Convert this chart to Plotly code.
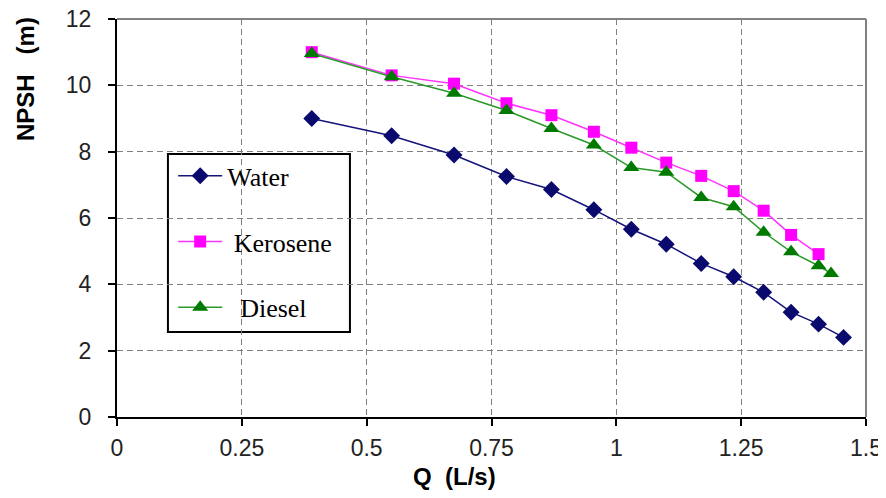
import plotly.graph_objects as go

q_common = [0.39, 0.55, 0.675, 0.78, 0.87, 0.955, 1.03, 1.10, 1.17, 1.235, 1.295, 1.35, 1.405]
q_water = q_common + [1.455]
npsh_water = [9.0, 8.48, 7.90, 7.25, 6.86, 6.25, 5.66, 5.21, 4.63, 4.23, 3.76, 3.16, 2.80, 2.40]
q_kerosene = q_common
npsh_kerosene = [11.0, 10.30, 10.05, 9.46, 9.10, 8.60, 8.12, 7.67, 7.27, 6.81, 6.22, 5.49, 4.91]
q_diesel = q_common + [1.43]
npsh_diesel = [10.96, 10.26, 9.76, 9.24, 8.70, 8.20, 7.52, 7.38, 6.62, 6.34, 5.57, 4.98, 4.56, 4.33]

x_ticks = [0, 0.25, 0.5, 0.75, 1, 1.25, 1.5]
x_ticklabels = ["0", "0.25", "0.5", "0.75", "1", "1.25", "1.5"]
y_ticks = [0, 2, 4, 6, 8, 10, 12]

fig = go.Figure()
fig.add_trace(go.Scatter(x=q_water, y=npsh_water, name="Water", mode="lines+markers",
                         line=dict(color="#14147a", width=1.5),
                         marker=dict(symbol="diamond", size=13, color="#0a0a6e"),
                         legendgroup="w"))
fig.add_trace(go.Scatter(x=q_kerosene, y=npsh_kerosene, name="\u00a0Kerosene", mode="lines+markers",
                         line=dict(color="#ff33ff", width=1.5),
                         marker=dict(symbol="square", size=12, color="#ff00ff"),
                         legendgroup="k"))
fig.add_trace(go.Scatter(x=q_diesel, y=npsh_diesel, name="\u00a0\u00a0Diesel", mode="lines+markers",
                         line=dict(color="#2a9a2a", width=1.5),
                         marker=dict(symbol="triangle-up", size=14, color="#007a00"),
                         legendgroup="d"))

grid = dict(showgrid=True, gridcolor="#7f7f7f", gridwidth=1, griddash="6px,4px")
common = dict(showline=True, linecolor="black", linewidth=2,
              ticks="outside", ticklen=7, tickcolor="black", tickwidth=2,
              tickfont=dict(family="Liberation Sans, Arial", size=23, color="#222"),
              ticklabeloverflow="allow", automargin=False, zeroline=False, **grid)
fig.update_xaxes(range=[0, 1.5], tickvals=x_ticks, ticktext=x_ticklabels,
                 ticklabelstandoff=2, **common)
fig.update_yaxes(range=[0, 12], tickvals=y_ticks, ticklabelstandoff=12, **common)

fig.add_shape(type="line", xref="paper", yref="paper", x0=0, x1=1, y0=1, y1=1,
              line=dict(color="#808080", width=2))
fig.add_shape(type="line", xref="paper", yref="paper", x0=1, x1=1, y0=0, y1=1,
              line=dict(color="#808080", width=2))
fig.add_shape(type="rect", xref="paper", yref="paper", x0=0.068, x1=0.311, y0=0.2136, y1=0.661,
              line=dict(color="black", width=2), fillcolor="white", layer="between")

fig.add_annotation(text="<b>NPSH   (m)</b>", xref="paper", yref="paper", x=-0.1228, y=0.849,
                   xanchor="center", yanchor="middle",
                   textangle=-90, showarrow=False,
                   font=dict(family="Liberation Sans, Arial", size=24, color="black"))
fig.add_annotation(text="<b>Q  (L/s)</b>", xref="paper", yref="paper", x=0.451, y=-0.150,
                   xanchor="center", yanchor="middle",
                   showarrow=False,
                   font=dict(family="Liberation Sans, Arial", size=24, color="black"))

fig.update_layout(
    width=878, height=482,
    margin=dict(l=109, r=20, t=11, b=73),
    paper_bgcolor="white", plot_bgcolor="white",
    showlegend=True,
    legend=dict(x=0.075, y=0.665, xanchor="left", yanchor="top",
                bgcolor="rgba(0,0,0,0)", borderwidth=0,
                tracegroupgap=29, itemwidth=44,
                font=dict(family="Liberation Serif, Times New Roman", size=26, color="black")),
)

fig.write_html("out.html")
